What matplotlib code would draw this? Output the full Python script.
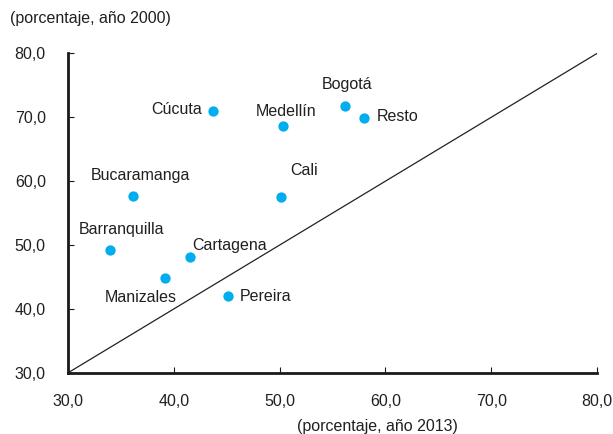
import matplotlib
matplotlib.use("Agg")
import matplotlib.pyplot as plt

# Share (%) in 2013 (x) vs 2000 (y)
cities = ["Cúcuta", "Bogotá", "Medellín", "Resto", "Bucaramanga", "Cali",
          "Barranquilla", "Cartagena", "Manizales", "Pereira"]
pct_2013 = [43.7, 56.2, 50.3, 58.0, 36.1, 50.1, 34.0, 41.5, 39.2, 45.1]
pct_2000 = [71.0, 71.8, 68.6, 69.9, 57.7, 57.5, 49.2, 48.1, 44.8, 42.1]

# label offsets in pixels (dx, dy up) and horizontal alignment
LABEL_POS = {
    "Cúcuta":       (-10.5, 2.5, "right"),
    "Bogotá":       (1.5, 22.5, "center"),
    "Medellín":     (3.3, 16, "center"),
    "Resto":        (12.5, 3, "left"),
    "Bucaramanga":  (7.7, 21.4, "center"),
    "Cali":         (23.3, 28, "center"),
    "Barranquilla": (11, 22, "center"),
    "Cartagena":    (40, 13, "center"),
    "Manizales":    (-25, -18, "center"),
    "Pereira":      (12, 1, "left"),
}
FS = 11.5
TXT = "#231f20"

plt.rcParams["font.family"] = ["Liberation Sans", "DejaVu Sans"]

fig = plt.figure(figsize=(6.13, 4.34), dpi=100)
ax = fig.add_axes([0.111, 0.141, 0.863, 0.736])

ax.plot([30, 80], [30, 80], color="#222222", linewidth=0.9, zorder=1)
ax.scatter(pct_2013, pct_2000, s=55, color="#00aeef", zorder=3, linewidths=0)

px2pt = 72 / 100
for name, xv, yv in zip(cities, pct_2013, pct_2000):
    dx, dy, ha = LABEL_POS[name]
    ax.annotate(name, (xv, yv), xytext=(dx * px2pt, dy * px2pt),
                textcoords="offset points", ha=ha, va="center_baseline",
                fontsize=FS, color=TXT)

ax.set_xlim(30, 80)
ax.set_ylim(30, 80)
ticks = [30, 40, 50, 60, 70, 80]
ax.set_xticks(ticks)
ax.set_yticks(ticks)
ax.set_xticklabels([f"{t:.1f}".replace(".", ",") for t in ticks])
ax.set_yticklabels([f"{t:.1f}".replace(".", ",") for t in ticks])
ax.tick_params(direction="in", length=4, width=0.8, labelsize=FS,
               colors="#1a1a1a", labelcolor=TXT)
ax.tick_params(axis="x", pad=15)
ax.tick_params(axis="y", pad=16)

for side in ["top", "right"]:
    ax.spines[side].set_visible(False)
for side in ["left", "bottom"]:
    ax.spines[side].set_linewidth(2)
    ax.spines[side].set_color("#1a1a1a")

fig.text(10 / 613, 1 - 19 / 434, "(porcentaje, año 2000)", fontsize=FS,
         color=TXT, va="center", ha="left")
fig.text(377 / 613, 1 - 426 / 434, "(porcentaje, año 2013)", fontsize=FS,
         color=TXT, va="center", ha="center")

fig.savefig("out.png", dpi=100)
